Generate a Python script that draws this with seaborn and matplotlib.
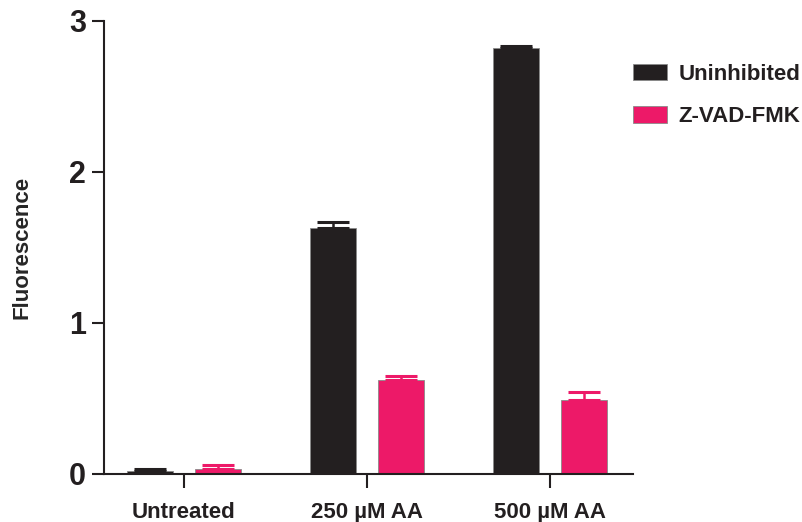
import matplotlib
matplotlib.use("Agg")
import matplotlib.pyplot as plt
import seaborn as sns
import pandas as pd
import numpy as np

categories = ["Untreated", "250 µM AA", "500 µM AA"]
groups = ["Uninhibited", "Z-VAD-FMK"]
uninhibited = [0.02, 1.63, 2.82]
uninhibited_err = [0.01, 0.04, 0.015]
zvad = [0.03, 0.62, 0.49]
zvad_err = [0.03, 0.03, 0.055]
colors = ["#231f20", "#ed1968"]

sns.set_theme(style="white")
plt.rcParams["font.family"] = ["Liberation Sans", "DejaVu Sans"]
plt.rcParams["font.weight"] = "bold"

df = pd.DataFrame({
    "Condition": categories * 2,
    "Group": [groups[0]] * 3 + [groups[1]] * 3,
    "Fluorescence": uninhibited + zvad,
})

fig = plt.figure(figsize=(8.03, 5.22), dpi=100)
ax = fig.add_axes([0.1295, 0.092, 0.659, 0.868])

sns.barplot(data=df, x="Condition", y="Fluorescence", hue="Group",
            palette=colors, order=categories, hue_order=groups,
            width=0.744, gap=0.325, errorbar=None, ax=ax,
            edgecolor="#8a8a8a", linewidth=0.6, saturation=1)

errs = uninhibited_err + zvad_err
vals = uninhibited + zvad
bars = list(ax.patches)[:6]
for i, p in enumerate(bars):
    cx = p.get_x() + p.get_width() / 2
    c = colors[0] if i < 3 else colors[1]
    ax.errorbar([cx], [vals[i]], yerr=[[0], [errs[i]]], fmt="none",
                ecolor=c, elinewidth=1.8, capsize=11.5, capthick=2.2, zorder=3)

ax.set_ylim(0, 3)
ax.set_xlim(-0.437, 2.454)
ax.set_yticks([0, 1, 2, 3])
ax.set_yticklabels(["0", "1", "2", "3"], fontsize=22, fontweight="bold")
ax.set_xticks(range(3))
ax.set_xticklabels(categories, fontsize=16, fontweight="bold")
ax.set_xlabel("")
ax.set_ylabel("Fluorescence", fontsize=16, fontweight="bold")
ax.yaxis.set_label_coords(-0.136, 0.5)

for s in ["top", "right"]:
    ax.spines[s].set_visible(False)
for s in ["left", "bottom"]:
    ax.spines[s].set_color("#231f20")
    ax.spines[s].set_linewidth(1.5)
ax.tick_params(axis="y", direction="out", length=9, width=1.5, color="#231f20",
               pad=4, left=True, labelcolor="#231f20")
ax.tick_params(axis="x", direction="out", length=10, width=1.5, color="#231f20",
               pad=10, bottom=True, labelcolor="#231f20")

leg = ax.legend(loc="upper left", bbox_to_anchor=(1.0, 0.905), frameon=False,
                fontsize=16, handlelength=1.53, handleheight=0.77,
                handletextpad=0.5, labelspacing=0.95, borderaxespad=0,
                borderpad=0)
for t in leg.get_texts():
    t.set_fontweight("bold")
    t.set_color("#231f20")

fig.savefig("out.png", dpi=100)
